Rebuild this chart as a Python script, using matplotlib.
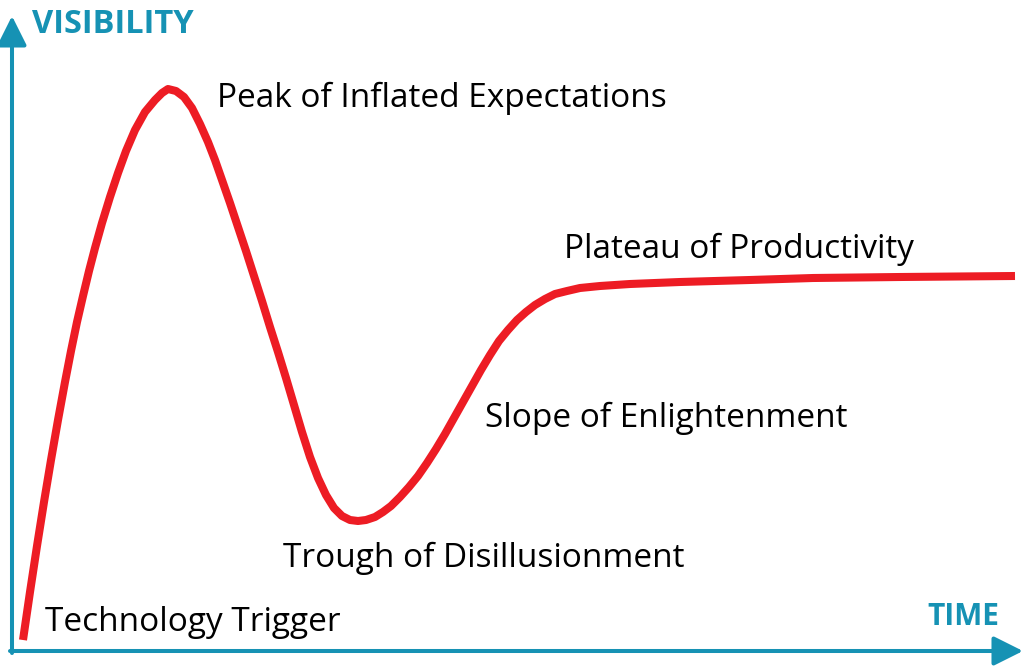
import matplotlib
matplotlib.use('Agg')
import matplotlib.pyplot as plt

# hype curve (pixel coords, y down)
curve_x = [23, 30, 37, 44, 51, 58, 65, 71, 77, 83, 89, 95, 102, 110, 118,
           126, 135, 145, 155, 162, 168, 176, 184, 192, 200, 208, 215, 222, 230,
           238, 246, 254, 262, 270, 278, 286, 294, 302, 310, 318, 326, 334, 342,
           350, 358, 366, 375, 383, 391, 400, 409, 418, 427, 436, 445, 454, 463,
           472, 481, 490, 499, 508, 517, 526, 535, 545, 555, 567, 580, 600, 630,
           680, 750, 813, 900, 1015]
curve_y = [640, 592, 546, 502, 460, 420, 382, 351, 322, 296, 271, 248, 223,
           197, 173, 151, 130, 112, 100, 93, 89, 91, 97, 108, 124, 142, 160, 180,
           203, 227, 251, 276, 301, 327, 352, 378, 405, 432, 457, 478, 495, 508,
           516, 520, 521, 520, 517, 512, 506, 497, 487, 476, 463, 449, 434, 418,
           402, 386, 370, 355, 341, 330, 320, 312, 305, 299, 294, 291, 288, 286,
           284, 282, 280, 278, 277, 276]

labels = ["Technology Trigger", "Peak of Inflated Expectations",
          "Trough of Disillusionment", "Slope of Enlightenment",
          "Plateau of Productivity"]
label_x = [45, 217, 283, 485, 564]
label_y = [631, 107, 567, 427, 258]

teal = '#1692b4'
red = '#ed1c24'

plt.rcParams['font.family'] = ['Open Sans', 'DejaVu Sans']

fig = plt.figure(figsize=(10.24, 6.66), dpi=100)
ax = fig.add_axes([0, 0, 1, 1])
ax.set_xlim(0, 1024)
ax.set_ylim(666, 0)
ax.axis('off')

# axes with arrow heads
arrow = dict(arrowstyle='-|>,head_length=0.4,head_width=0.2', lw=2.9, color=teal,
             mutation_scale=45, shrinkA=0, shrinkB=0)
ax.annotate('', xy=(12, 16), xytext=(12, 653), arrowprops=arrow)
ax.annotate('', xy=(1023, 651), xytext=(10, 651), arrowprops=arrow)

ax.plot(curve_x, curve_y, color=red, lw=5.8, solid_capstyle='butt',
        solid_joinstyle='round')

ax.text(32, 33, 'VISIBILITY', color=teal, fontsize=23.5, fontweight='bold',
        ha='left', va='baseline')
ax.text(927, 625, 'TIME', color=teal, fontsize=21.5, fontweight='bold',
        ha='left', va='baseline')

for t, x, y in zip(labels, label_x, label_y):
    ax.text(x, y, t, fontsize=24, color='black', ha='left', va='baseline')

fig.savefig('out.png', dpi=100)
